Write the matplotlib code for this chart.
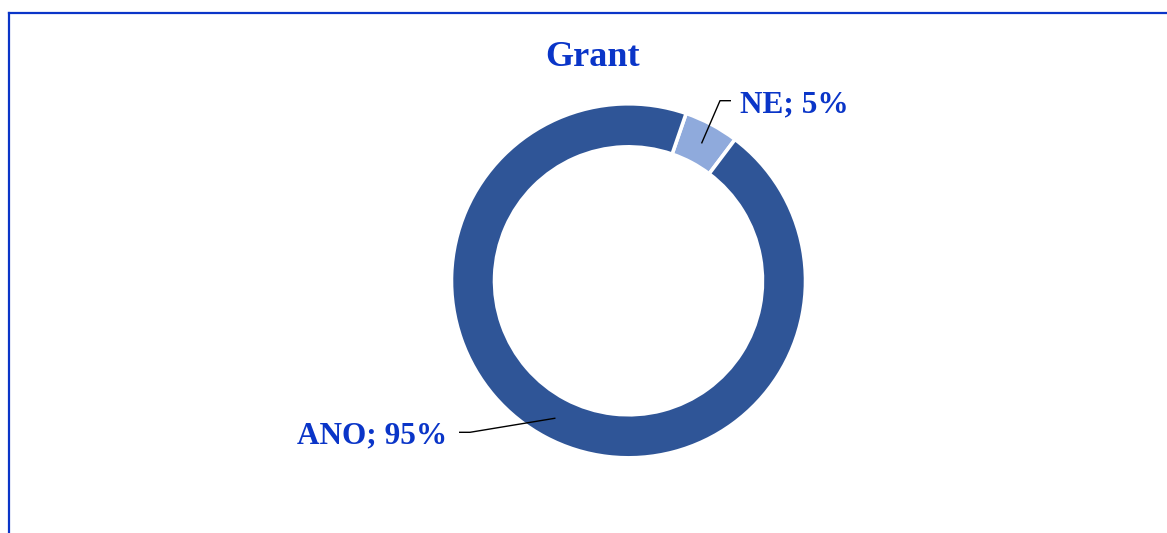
import numpy as np
import matplotlib
matplotlib.use("Agg")
import matplotlib.pyplot as plt
from matplotlib.lines import Line2D

# Data
title = "Grant"
categories = ["NE", "ANO"]
values = [5, 95]
colors = ["#8FAADC", "#2F5597"]
text_color = "#0A35C8"

W, H = 1167, 533
fig = plt.figure(figsize=(W / 100, H / 100), dpi=100)
fig.patch.set_facecolor("white")

# frame lines (top and left)
fig.add_artist(Line2D([8.5 / W, 1.0], [1 - 12.5 / H, 1 - 12.5 / H],
                      color="#0A35C8", lw=1.6, transform=fig.transFigure))
fig.add_artist(Line2D([8.5 / W, 8.5 / W], [0, 1 - 12.5 / H],
                      color="#0A35C8", lw=1.6, transform=fig.transFigure))

# donut axes
cx, cy, r = 628.5, 280.8, 175.8
ax = fig.add_axes([(cx - r) / W, (H - cy - r) / H, 2 * r / W, 2 * r / H])
wedges, _ = ax.pie(values, colors=colors, startangle=90 - 19, counterclock=False,
                   radius=1.007, wedgeprops=dict(width=0.245, edgecolor="white", linewidth=2.6))
ax.set_xlim(-1, 1)
ax.set_ylim(-1, 1)
ax.set_aspect("equal")
ax.axis("off")

fs = 22.5
fam = ["Liberation Serif", "DejaVu Serif"]

def px(x, y):
    return (x - cx) / r, (cy - y) / r

# label layout: (elbow px, end px, text px, ha)
layouts = {
    "NE": ((720, 100.7), (731, 100.7), (740, 112.3), "left"),
    "ANO": ((470, 432.3), (459, 432.3), (447, 443.3), "right"),
}

for w, cat, val in zip(wedges, categories, values):
    mid = np.deg2rad((w.theta1 + w.theta2) / 2)
    rm = 0.885
    ax0, ay0 = rm * np.cos(mid), rm * np.sin(mid)
    elbow, end, tpos, ha = layouts[cat]
    ex, ey = px(*elbow)
    nx, ny = px(*end)
    ax.plot([ax0, ex, nx], [ay0, ey, ny], color="black", lw=1.0, clip_on=False,
            solid_capstyle="butt")
    tx, ty = px(*tpos)
    ax.text(tx, ty, f"{cat}; {val}%", ha=ha, va="baseline", fontsize=fs,
            fontweight="bold", color=text_color, family=fam, clip_on=False)

fig.text(592.5 / W, 1 - 66 / H, title, ha="center", va="baseline", fontsize=26,
         fontweight="bold", color=text_color, family=fam)

fig.savefig("out.png", dpi=100)
